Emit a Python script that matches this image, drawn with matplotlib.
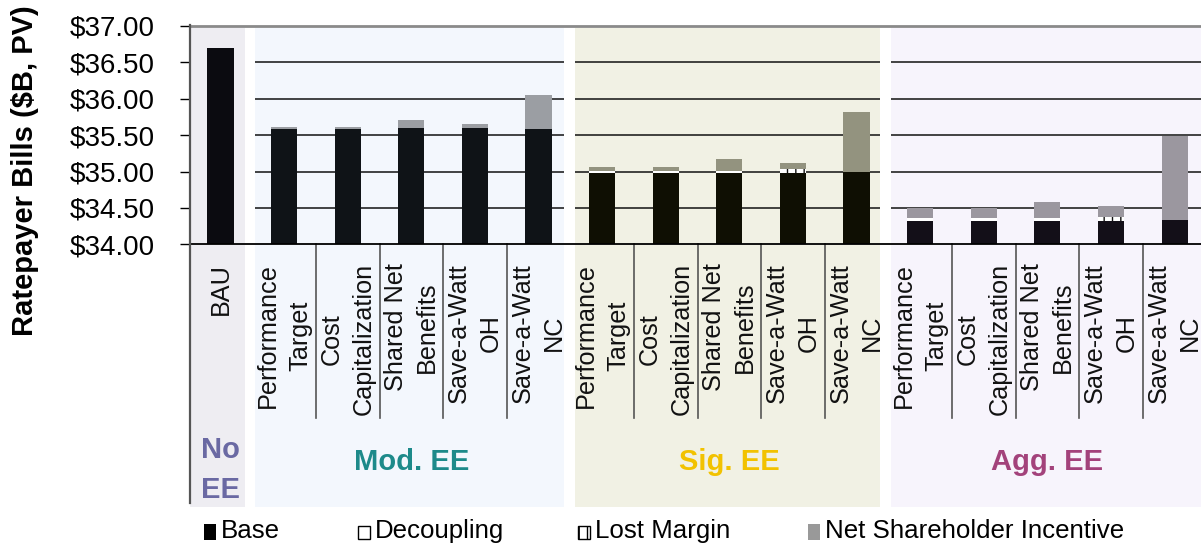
import matplotlib
matplotlib.use("Agg")
import matplotlib.pyplot as plt
import matplotlib.transforms as mtransforms
from matplotlib.patches import Rectangle
from matplotlib.lines import Line2D
import numpy as np

plt.rcParams['font.family'] = ['Liberation Sans', 'DejaVu Sans']

# ---------------- data ----------------
groups = ["No\nEE", "Mod. EE", "Sig. EE", "Agg. EE"]
group_sizes = [1, 5, 5, 5]
categories = ["BAU",
              "Performance\nTarget", "Cost\nCapitalization", "Shared Net\nBenefits", "Save-a-Watt\nOH", "Save-a-Watt\nNC",
              "Performance\nTarget", "Cost\nCapitalization", "Shared Net\nBenefits", "Save-a-Watt\nOH", "Save-a-Watt\nNC",
              "Performance\nTarget", "Cost\nCapitalization", "Shared Net\nBenefits", "Save-a-Watt\nOH", "Save-a-Watt\nNC"]
base = [36.70,
        35.585, 35.585, 35.60, 35.60, 35.585,
        34.98, 34.98, 34.98, 34.98, 34.99,
        34.32, 34.32, 34.32, 34.32, 34.33]
decoupling = [0.0,
              0.0, 0.0, 0.0, 0.0, 0.0,
              0.03, 0.03, 0.03, 0.0, 0.0,
              0.04, 0.04, 0.04, 0.0, 0.0]
lost_margin = [0.0,
               0.0, 0.0, 0.0, 0.0, 0.0,
               0.0, 0.0, 0.0, 0.05, 0.0,
               0.0, 0.0, 0.0, 0.055, 0.0]
net_incentive = [0.0,
                 0.03, 0.03, 0.11, 0.05, 0.47,
                 0.05, 0.05, 0.16, 0.09, 0.83,
                 0.14, 0.14, 0.22, 0.15, 1.16]
series_names = ["Base", "Decoupling", "Lost Margin", "Net Shareholder Incentive"]
yticks = [34.0, 34.5, 35.0, 35.5, 36.0, 36.5, 37.0]
ytick_labels = ["$34.00", "$34.50", "$35.00", "$35.50", "$36.00", "$36.50", "$37.00"]
ylabel = "Ratepayer Bills ($B, PV)"

# ---------------- styling ----------------
W, H = 1201, 548
panel_colors = ['#eeedf2', '#f3f7fd', '#f1f1e4', '#f7f4fc']
group_text_colors = ['#6a69a3', '#1d8a8a', '#f2c200', '#a3427b']
base_colors = ['#0b0b10', '#0f1317', '#0f0f03', '#130f18']
nsi_colors = ['#999999', '#9b9ea3', '#93937f', '#9b979f']

fig = plt.figure(figsize=(W / 100, H / 100), dpi=100)
ax_top, ax_bot = 26.0, 244.3
ax = fig.add_axes([190 / W, 1 - ax_bot / H, 1011 / W, (ax_bot - ax_top) / H])
ax.patch.set_visible(False)
ax.set_xlim(-0.48, 15.416)
ax.set_ylim(34, 37)


def fy(px):
    return (ax_bot - px) / (ax_bot - ax_top)


trans = mtransforms.blended_transform_factory(ax.transData, ax.transAxes)

n = len(categories)
x = np.arange(n)
gidx = np.repeat(np.arange(len(groups)), group_sizes)

# panels (x extents in data units)
panel_x = [(-0.48, 0.385), (0.54, 5.40), (5.57, 10.37), (10.54, 15.5)]
for gi, (x0, x1) in enumerate(panel_x):
    ax.add_patch(Rectangle((x0, fy(507)), x1 - x0, fy(28) - fy(507), transform=trans,
                           facecolor=panel_colors[gi], edgecolor='none', clip_on=False, zorder=0))
    if gi > 0:
        ax.hlines(yticks[1:-1], x0, x1, colors='#111111', linewidth=1.1, zorder=1)

# bars
bw = 0.41
b_col = [base_colors[g] for g in gidx]
n_col = [nsi_colors[g] for g in gidx]
base_arr = np.array(base)
dec_arr = np.array(decoupling)
lm_arr = np.array(lost_margin)
nsi_arr = np.array(net_incentive)
ax.bar(x, base_arr, bw, color=b_col, zorder=2, linewidth=0)
ax.bar(x, dec_arr, bw, bottom=base_arr, color='white', zorder=2, linewidth=0)
ax.bar(x, lm_arr, bw, bottom=base_arr + dec_arr, facecolor='white', edgecolor='#111111',
       hatch='||', linewidth=0, zorder=2)
ax.bar(x, nsi_arr, bw, bottom=base_arr + dec_arr + lm_arr, color=n_col, zorder=2, linewidth=0)

# spines
for s in ['right', 'left']:
    ax.spines[s].set_visible(False)
ax.spines['top'].set_color('#8a8a8a')
ax.spines['top'].set_linewidth(2.0)
ax.spines['bottom'].set_color('#000000')
ax.spines['bottom'].set_linewidth(1.3)
ax.spines['bottom'].set_zorder(3)
fig.add_artist(Line2D([190 / W, 190 / W], [1 - 25 / H, 1 - 503 / H], color='#555555',
                      linewidth=1.6, transform=fig.transFigure))

ax.set_xticks([])
ax.set_yticks(yticks)
ax.set_yticklabels(ytick_labels)
ax.tick_params(axis='y', length=7.2, width=1.0, pad=18, labelsize=20, colors='black')

# category labels
for i in range(n):
    ax.text(x[i], fy(263), categories[i], transform=trans, rotation=90, ha='center', va='top',
            multialignment='center', fontsize=18.2, linespacing=1.4, color='#111111', clip_on=False)

# separators between categories in same group
start = 0
for gs in group_sizes:
    for k in range(1, gs):
        b = start + k - 0.5
        ax.add_line(Line2D([b, b], [fy(244.3), fy(418)], transform=trans, color='#555555',
                           linewidth=1.2, clip_on=False))
    start += gs

# group labels
start = 0
for gi, gs in enumerate(group_sizes):
    cx = start + (gs - 1) / 2
    lines = groups[gi].split("\n")
    if len(lines) == 2:
        ax.text(cx, fy(458), lines[0], transform=trans, ha='center', va='baseline', fontsize=21,
                fontweight='bold', color=group_text_colors[gi], clip_on=False)
        ax.text(cx, fy(498), lines[1], transform=trans, ha='center', va='baseline', fontsize=21,
                fontweight='bold', color=group_text_colors[gi], clip_on=False)
    else:
        ax.text(cx, fy(470), groups[gi], transform=trans, ha='center', va='baseline', fontsize=21,
                fontweight='bold', color=group_text_colors[gi], clip_on=False)
    start += gs

# y label
fig.text(25 / W, 1 - 171 / H, ylabel, rotation=90, ha='center', va='center', fontsize=21,
         fontweight='bold', color='black')

# legend (manual)
leg_x = [204, 358, 578, 808]
leg_style = [dict(facecolor='#000000', edgecolor='#000000', lw=0),
             dict(facecolor='white', edgecolor='#000000', lw=1.0),
             dict(facecolor='white', edgecolor='#000000', lw=1.0, hatch='||'),
             dict(facecolor='#999999', edgecolor='#999999', lw=0)]
for lx, name, st in zip(leg_x, series_names, leg_style):
    if name in ("Decoupling", "Lost Margin"):
        r = Rectangle((lx / W, 1 - 539 / H), 12 / W, 13 / H, transform=fig.transFigure,
                      facecolor=st['facecolor'], edgecolor=st['edgecolor'], linewidth=st['lw'],
                      hatch=st.get('hatch'))
    else:
        r = Rectangle((lx / W, 1 - 540 / H), 12 / W, 16 / H, transform=fig.transFigure,
                      facecolor=st['facecolor'], edgecolor=st['edgecolor'], linewidth=st['lw'])
    fig.add_artist(r)
    fig.text((lx + 17) / W, 1 - 531 / H, name, ha='left', va='center', fontsize=18.6, color='black')

fig.savefig("out.png", dpi=100)
